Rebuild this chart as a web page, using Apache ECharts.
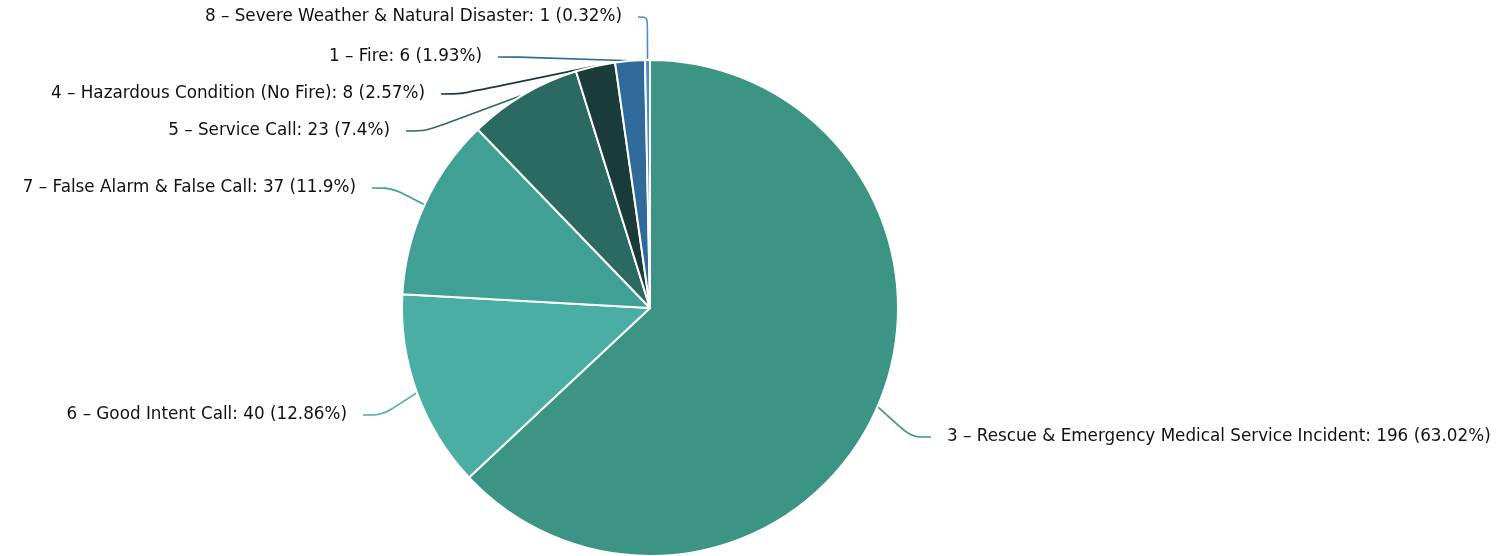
<!DOCTYPE html>
<html><head><meta charset="utf-8">
<script src="https://cdn.jsdelivr.net/npm/echarts@6/dist/echarts.min.js"></script>
<style>html,body{margin:0;padding:0;background:#fff}#c{width:1507px;height:556px}</style>
</head><body><div id="c"></div>
<script>
const categories = [
  "3 – Rescue & Emergency Medical Service Incident",
  "6 – Good Intent Call",
  "7 – False Alarm & False Call",
  "5 – Service Call",
  "4 – Hazardous Condition (No Fire)",
  "1 – Fire",
  "8 – Severe Weather & Natural Disaster"
];
const values = [196, 40, 37, 23, 8, 6, 1];
const colors = ["#3b9484", "#4aaea4", "#40a096", "#2b6a62", "#1b3a3a", "#2f6a9a", "#4a8fc8"];
// label text anchor positions (x, y, align)
const labelPos = [
  [947, 437, 'left'],
  [347, 415, 'right'],
  [356, 188, 'right'],
  [390, 131, 'right'],
  [425, 94, 'right'],
  [482, 57, 'right'],
  [622, 17, 'right']
];
const GAP = 16;
const total = values.reduce((a, b) => a + b, 0);
function pct(v) { return String(Math.round(v / total * 10000) / 100); }

const chart = echarts.init(document.getElementById('c'));
chart.setOption({
  animation: false,
  series: [{
    type: 'pie',
    center: [650, 308],
    radius: 248,
    startAngle: 90,
    clockwise: true,
    itemStyle: { borderColor: '#fff', borderWidth: 2 },
    label: {
      show: true,
      color: '#111',
      fontFamily: 'DejaVu Sans',
      fontSize: 16.8,
      backgroundColor: 'rgba(255,255,255,0)',
      formatter: p => p.name + ': ' + p.value + ' (' + pct(p.value) + '%)'
    },
    labelLine: { show: true, smooth: 0.3, length: 12, length2: 20, lineStyle: { width: 1.6 } },
    labelLayout: function (params) {
      const lp = labelPos[params.dataIndex];
      const left = lp[2] === 'left';
      return { x: left ? lp[0] - GAP : lp[0] + GAP, y: lp[1], align: lp[2], verticalAlign: 'middle' };
    },
    data: categories.map((n, i) => ({
      name: n, value: values[i],
      itemStyle: { color: colors[i] },
      label: { padding: labelPos[i][2] === 'left' ? [0, 0, 0, GAP] : [0, GAP, 0, 0] },
      labelLine: { lineStyle: { color: colors[i] } }
    }))
  }]
});
</script></body></html>
